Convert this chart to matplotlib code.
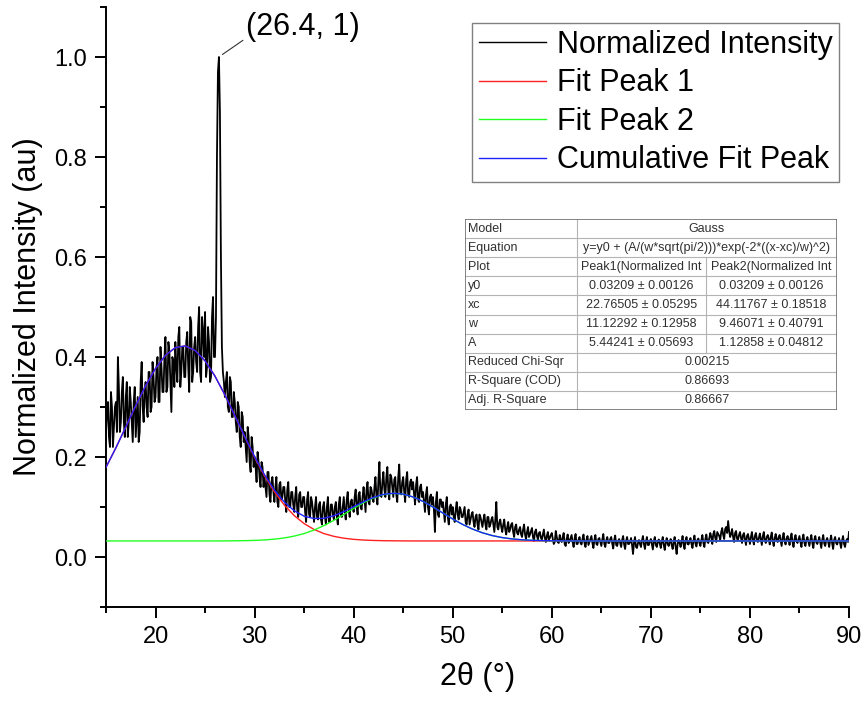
import numpy as np
import matplotlib
matplotlib.use("Agg")
import matplotlib.pyplot as plt
from matplotlib.ticker import MultipleLocator, FormatStrFormatter

plt.rcParams['font.family'] = ['Liberation Sans', 'DejaVu Sans']

# measured pattern, read at 15.0, 15.2, ... 90.0 (one row per degree)
two_theta = np.round(np.arange(15, 90.001, 0.2), 1)
intensity = [
    .25, .31, .22, .30, .26,
    .31, .40, .25, .33, .27,
    .32, .24, .34, .27, .31,
    .24, .32, .25, .39, .27,
    .35, .28, .37, .30, .36,
    .32, .40, .31, .38, .33,
    .44, .34, .41, .29, .39,
    .43, .35, .46, .37, .42,
    .36, .45, .33, .47, .37,
    .44, .37, .50, .35, .45,
    .49, .38, .43, .36, .52,
    .40, .80, 1.00, .60, .37,
    .32, .37, .29, .35, .28,
    .31, .25, .30, .22, .28,
    .25, .19, .24, .17, .22,
    .20, .15, .19, .14, .18,
    .16, .12, .17, .11, .16,
    .11, .16, .10, .15, .12,
    .14, .09, .15, .10, .13,
    .09, .14, .08, .13, .10,
    .12, .07, .13, .08, .11,
    .07, .12, .075, .11, .065,
    .11, .065, .12, .07, .105,
    .075, .11, .065, .12, .08,
    .12, .075, .13, .08, .115,
    .09, .135, .085, .13, .095,
    .14, .09, .15, .105, .135,
    .11, .16, .105, .19, .12,
    .17, .12, .18, .115, .16,
    .12, .16, .11, .185, .125,
    .16, .11, .17, .12, .155,
    .15, .105, .16, .11, .145,
    .13, .09, .14, .085, .125,
    .12, .05, .13, .08, .115,
    .11, .07, .12, .065, .105,
    .10, .07, .11, .075, .095,
    .08, .10, .065, .095, .075,
    .09, .06, .085, .055, .08,
    .06, .085, .055, .08, .065,
    .08, .05, .11, .055, .075,
    .05, .075, .045, .07, .055,
    .068, .04, .065, .045, .06,
    .04, .065, .035, .06, .045,
    .058, .032, .055, .035, .05,
    .035, .055, .03, .05, .038,
    .048, .026, .052, .03, .044,
    .03, .048, .022, .045, .032,
    .044, .02, .046, .026, .04,
    .025, .045, .02, .042, .03,
    .042, .018, .044, .024, .038,
    .022, .046, .02, .04, .028,
    .04, .017, .043, .022, .036,
    .02, .042, .016, .04, .026,
    .038, .006, .04, .018, .034,
    .02, .042, .016, .04, .024,
    .036, .015, .04, .02, .035,
    .018, .04, .014, .038, .022,
    .036, .016, .04, .006, .034,
    .02, .042, .016, .04, .025,
    .038, .018, .043, .021, .037,
    .022, .044, .02, .045, .028,
    .048, .026, .052, .03, .046,
    .034, .058, .036, .06, .072,
    .04, .056, .03, .052, .035,
    .05, .028, .048, .024, .046,
    .026, .05, .025, .048, .03,
    .047, .024, .05, .028, .044,
    .025, .049, .022, .046, .03,
    .044, .022, .048, .025, .042,
    .024, .047, .02, .044, .028,
    .042, .02, .045, .022, .04,
    .022, .044, .018, .042, .026,
    .04, .018, .044, .022, .038,
    .02, .043, .016, .04, .025,
    .038, .018, .042, .02, .036,
    .05,
]
# in-between readings at 15.1, 15.3, ... 89.9
two_theta_mid = np.round(np.arange(15.1, 90, 0.2), 1)
intensity_mid = [
    .29, .24, .33, .22, .30,
    .25, .34, .27, .36, .24,
    .35, .27, .31, .23, .34,
    .28, .23, .35, .30, .33,
    .30, .37, .29, .39, .31,
    .38, .31, .42, .33, .40,
    .33, .43, .35, .40, .34,
    .38, .44, .34, .42, .36,
    .43, .38, .48, .35, .42,
    .39, .46, .37, .48, .40,
    .36, .46, .35, .48, .40,
    .48, .97, .89, .42, .35,
    .35, .30, .36, .28, .33,
    .27, .31, .24, .29, .23,
    .22, .26, .19, .24, .18,
    .18, .21, .16, .19, .14,
    .14, .17, .125, .15, .13,
    .14, .11, .145, .115, .14,
    .11, .135, .10, .13, .105,
    .12, .095, .125, .10, .12,
    .09, .115, .085, .12, .09,
    .10, .08, .105, .075, .10,
    .08, .10, .07, .105, .085,
    .10, .08, .105, .085, .10,
    .09, .115, .095, .11, .10,
    .12, .10, .125, .10, .12,
    .115, .135, .11, .14, .12,
    .14, .12, .155, .125, .15,
    .135, .16, .13, .165, .14,
    .155, .125, .16, .13, .15,
    .13, .155, .125, .15, .135,
    .125, .145, .115, .14, .12,
    .11, .125, .10, .12, .105,
    .095, .11, .085, .115, .10,
    .09, .105, .08, .10, .085,
    .08, .095, .085, .10, .08,
    .09, .07, .085, .065, .085,
    .07, .08, .065, .085, .07,
    .075, .065, .08, .06, .075,
    .065, .075, .06, .07, .06,
    .065, .055, .06, .05, .065,
    .05, .06, .048, .055, .045,
    .055, .045, .05, .04, .052,
    .04, .05, .042, .048, .038,
    .045, .038, .042, .034, .044,
    .036, .03, .04, .028, .034,
    .04, .026, .036, .028, .038,
    .03, .036, .026, .034, .028,
    .036, .028, .034, .024, .036,
    .028, .034, .026, .036, .03,
    .035, .026, .033, .028, .036,
    .027, .034, .024, .032, .028,
    .034, .025, .032, .026, .03,
    .024, .03, .02, .028, .026,
    .033, .026, .03, .024, .032,
    .026, .032, .024, .03, .027,
    .031, .024, .029, .026, .03,
    .024, .03, .02, .026, .028,
    .03, .025, .033, .026, .031,
    .026, .032, .027, .034, .028,
    .034, .028, .036, .03, .038,
    .04, .046, .038, .05, .042,
    .05, .044, .056, .048, .052,
    .046, .04, .048, .036, .044,
    .038, .044, .035, .042, .036,
    .04, .034, .042, .036, .038,
    .035, .042, .033, .04, .036,
    .04, .032, .038, .034, .04,
    .033, .039, .031, .037, .034,
    .038, .03, .036, .032, .035,
    .03, .036, .028, .034, .031,
    .034, .028, .035, .029, .032,
    .029, .034, .027, .033, .03,
    .033, .027, .034, .028, .031,
    .028, .033, .026, .032, .03,
]

# fitted curves, 1 deg steps
fit_x = np.arange(15, 91)
fit_peak1 = [.1794, .2184, .2602, .3026, .3425, .3771, .4033, .4188, .4222, .4130,
             .3922, .3617, .3242, .2827, .2403, .1996, .1625, .1304, .1039, .0828,
             .0668, .0551, .0468, .0413, .0376, .0353, .0339, .0331, .0326, .0324,
             .0322] + [.0321] * 45
fit_peak2 = [.0321] * 12 + [.0322, .0324, .0327, .0332, .0341, .0357, .0381, .0418,
             .0469, .0539, .0628, .0733, .0851, .0973, .1087, .1182, .1247, .1273,
             .1257, .1201, .1112, .1001, .0880, .0760, .0651, .0558, .0484, .0428,
             .0388, .0361, .0344, .0334, .0328, .0324, .0323] + [.0321] * 29
fit_cumul = [.1794, .2184, .2602, .3026, .3425, .3771, .4033, .4188, .4222, .4130,
             .3922, .3617, .3243, .2830, .2409, .2007, .1645, .1340, .1099, .0925,
             .0816, .0769, .0775, .0825, .0906, .1005, .1105, .1192, .1252, .1276,
             .1258, .1201, .1112, .1001, .0880, .0760, .0651, .0558, .0484, .0428,
             .0388, .0361, .0344, .0334, .0328, .0324, .0323] + [.0321] * 29

# fit report table
table_rows = ["Model", "Equation", "Plot", "y0", "xc", "w", "A",
              "Reduced Chi-Sqr", "R-Square (COD)", "Adj. R-Square"]
col_peak1 = ["Gauss", "y=y0 + (A/(w*sqrt(pi/2)))*exp(-2*((x-xc)/w)^2)",
             "Peak1(Normalized Int", "0.03209 \u00b1 0.00126", "22.76505 \u00b1 0.05295",
             "11.12292 \u00b1 0.12958", "5.44241 \u00b1 0.05693", "0.00215", "0.86693", "0.86667"]
col_peak2 = [None, None, "Peak2(Normalized Int", "0.03209 \u00b1 0.00126",
             "44.11767 \u00b1 0.18518", "9.46071 \u00b1 0.40791", "1.12858 \u00b1 0.04812",
             None, None, None]

xx = np.concatenate([two_theta, two_theta_mid])
yy = np.concatenate([intensity, intensity_mid])
order = np.argsort(xx)
xx, yy = xx[order], yy[order]

fig = plt.figure(figsize=(8.67, 7.04), dpi=100)
ax = fig.add_axes([106 / 867, 97 / 704, 743 / 867, 600 / 704])

ax.plot(xx, yy, color='black', lw=1.3, label='Normalized Intensity', zorder=2)
ax.plot(fit_x, fit_peak1, color='#ff2020', lw=1.0, label='Fit Peak 1', zorder=3)
ax.plot(fit_x, fit_peak2, color='#20ff20', lw=1.0, label='Fit Peak 2', zorder=3)
ax.plot(fit_x, fit_cumul, color='#2020ff', lw=1.0, label='Cumulative Fit Peak', zorder=4)

ax.set_xlim(15, 90)
ax.set_ylim(-0.1, 1.1)
ax.xaxis.set_major_locator(MultipleLocator(10))
ax.xaxis.set_minor_locator(MultipleLocator(5))
ax.yaxis.set_major_locator(MultipleLocator(0.2))
ax.yaxis.set_minor_locator(MultipleLocator(0.1))
ax.yaxis.set_major_formatter(FormatStrFormatter('%.1f'))
for s in ['top', 'right']:
    ax.spines[s].set_visible(False)
for s in ['left', 'bottom']:
    ax.spines[s].set_linewidth(1.4)
ax.tick_params(which='major', direction='out', length=8, width=1.4, labelsize=17, pad=6)
ax.tick_params(which='minor', direction='out', length=4.5, width=1.4)

ax.set_xlabel('2\u03b8 (\u00b0)', fontsize=22, labelpad=10)
ax.set_ylabel('Normalized Intensity (au)', fontsize=22, labelpad=8)

ax.annotate('(26.4, 1)', xy=(26.75, 1.005), xytext=(29.1, 1.06),
            fontsize=22, ha='left', va='center',
            arrowprops=dict(arrowstyle='-', color='#333333', lw=0.8,
                            shrinkA=0, shrinkB=0, relpos=(0, 0.12)))

leg = ax.legend(loc='upper right', bbox_to_anchor=(839 / 867, 1 - 23 / 704),
                bbox_transform=fig.transFigure, fontsize=22, fancybox=False,
                edgecolor='#808080', framealpha=1, handlelength=2.2,
                handletextpad=0.35, labelspacing=0.28, borderpad=0.22, borderaxespad=0)
leg.get_frame().set_linewidth(1.0)
for h in leg.get_lines():
    h.set_linewidth(1.0)

# table of fit parameters
tab = fig.add_axes([465 / 867, 1 - 410 / 704, 372 / 867, 191 / 704])
tab.set_xlim(0, 1)
tab.set_ylim(len(table_rows), 0)
tab.axis('off')
c1, c2 = 0.301, 0.648
grid_c = '#b4b4b4'
txt_c = '#303030'
for i in range(1, len(table_rows)):
    tab.plot([0, 1], [i, i], color=grid_c, lw=0.8)
tab.plot([c1, c1], [0, len(table_rows)], color=grid_c, lw=0.8)
tab.plot([c2, c2], [2, 7], color=grid_c, lw=0.8)
tab.plot([0, 1, 1, 0, 0], [0, 0, len(table_rows), len(table_rows), 0], color='#6e6e6e', lw=1.2)
tab.plot([0.006, 1.004, 1.004], [len(table_rows) + 0.1, len(table_rows) + 0.1, 0.1],
         color='#c8c8c8', lw=1.2)
for i, name in enumerate(table_rows):
    tab.text(0.008, i + 0.5, name, fontsize=9, color=txt_c, ha='left', va='center')
    if col_peak2[i] is None:
        tab.text((c1 + 1) / 2, i + 0.5, col_peak1[i], fontsize=9, color=txt_c,
                 ha='center', va='center')
    else:
        tab.text((c1 + c2) / 2, i + 0.5, col_peak1[i], fontsize=9, color=txt_c,
                 ha='center', va='center')
        tab.text((c2 + 1) / 2, i + 0.5, col_peak2[i], fontsize=9, color=txt_c,
                 ha='center', va='center')

fig.savefig('out.png', dpi=100)
